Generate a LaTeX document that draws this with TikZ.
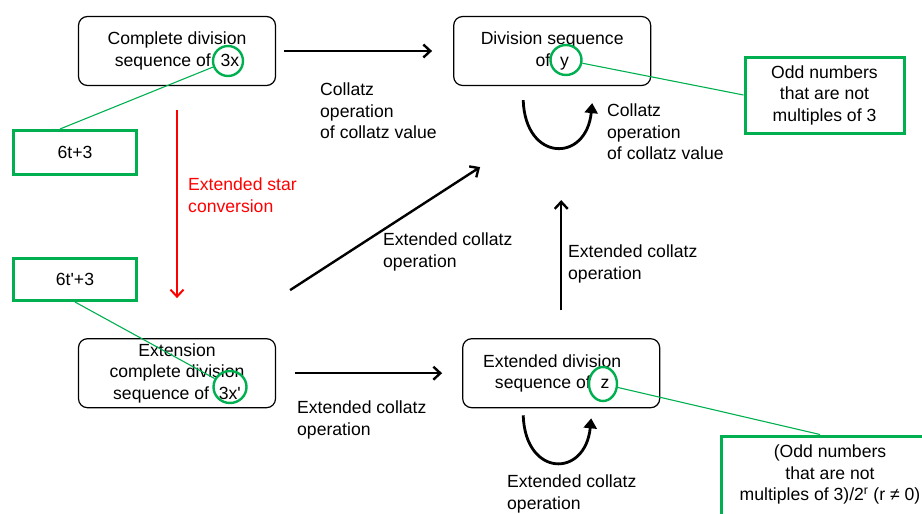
\documentclass[tikz,border=0pt]{standalone}
\usepackage{fontspec}
\setmainfont{Liberation Sans}
\usetikzlibrary{arrows.meta, shapes, positioning}
\definecolor{notegreen}{RGB}{0,176,80}
\tikzstyle{line} = [draw, line width=2.4pt, -{Straight Barb[length=7pt, width=13pt]}]
\tikzstyle{loopline} = [draw, line width=2.8pt, -{Triangle[length=10pt, width=13pt]}]
\tikzstyle{block} = [rectangle, draw, line width=1.2pt, rounded corners=9pt, minimum width=197pt, minimum height=69pt]
\tikzstyle{note} = [rectangle, draw=notegreen, line width=3pt, align=center]
\tikzstyle{ring} = [ellipse, draw=notegreen, line width=2.4pt, inner sep=0pt]
\tikzstyle{lead} = [draw=notegreen, line width=1.1pt]
\tikzstyle{optext} = [anchor=north west, align=left, inner sep=0pt]

\begin{document}
\begin{tikzpicture}[x=1pt, y=-1pt, font=\fontsize{17.6}{21.5}\selectfont]
\useasboundingbox (0,0) rectangle (922,514);
% sequences
\node [block, align=center] (full) at (177,51) {Complete division\\sequence of \ 3x};
\node [block, right=177pt of full, align=center] (divy) {Division sequence\\of \ y};
\node [block, below=252pt of full, align=center] (extfull) {Extension\\complete division\\sequence of \ 3x\textquotesingle};
\node [block, right=186pt of extfull, align=center] (extdiv) {Extended division\hspace*{18pt}\\sequence of \ z\hspace*{18pt}};
% marked values
\node [ring, minimum width=30pt, minimum height=30pt] (r3x) at (228,61) {};
\node [ring, minimum width=31pt, minimum height=30pt] (ry) at (566,60) {};
\node [ring, minimum width=33pt, minimum height=32pt] (r3xp) at (230,387) {};
\node [ring, minimum width=28pt, minimum height=34pt] (rz) at (603,384) {};
% green notes
\node [note, minimum width=123pt, minimum height=44pt] (n1) at (75,152.5) {6t+3};
\node [note, minimum width=123pt, minimum height=42pt] (n2) at (75,279.5) {6t\textquotesingle+3};
\node [note, minimum width=159pt, minimum height=76pt] (n3) at (824.5,95) {Odd numbers\\that are not\\multiples of 3};
\node [note, anchor=north, minimum width=218pt, inner ysep=9pt, text depth=20pt] (n4) at (830,434.5) {(Odd numbers\\that are not\\multiples of 3)/2\textsuperscript{r} (r ≠ 0)};
% operation labels
\node [optext] (lab1) at (320,83) {Collatz\\operation\\of collatz value};
\node [optext, text=red] (lab2) at (188,178) {Extended star\\conversion};
\node [optext] (lab3) at (383,233) {Extended collatz\\operation};
\node [optext] (lab4) at (297,401) {Extended collatz\\operation};
\node [optext] (lab5) at (568,245) {Extended collatz\\operation};
\node [optext] (lab6) at (607,104) {Collatz\\operation\\of collatz value};
\node [optext] (lab7) at (507,475) {Extended collatz\\operation};
% arrows
\path [line, shorten <=8pt, shorten >=21pt] (full) -- (divy);
\path [line, draw=red, line width=2pt, shorten <=24pt, shorten >=40pt] (full) -- (extfull);
\path [line] ([shift={(14,-48)}]extfull.north east) -- ([shift={(27,81)}]divy.south west);
\path [line, shorten <=19pt, shorten >=20pt] (extfull) -- (extdiv);
\path [line, shorten <=28pt, shorten >=114pt] (extdiv.north) -- (extdiv.north |- divy.south);
\path [loopline] ([shift={(-29,14)}]divy.south) .. controls +(2,62) and +(-6,60) .. ([shift={(40,17)}]divy.south);
\path [loopline] ([shift={(-38,7)}]extdiv.south) .. controls +(2,62) and +(-6,60) .. ([shift={(30,10)}]extdiv.south);
% leads
\path [lead] (r3x) -- ([xshift=-15pt]n1.north);
\path [lead] (n2.south) -- (r3xp);
\path [lead] (ry) -- (n3.west);
\path [lead] (rz) -- ([xshift=-10pt]n4.north);
\end{tikzpicture}
\end{document}
